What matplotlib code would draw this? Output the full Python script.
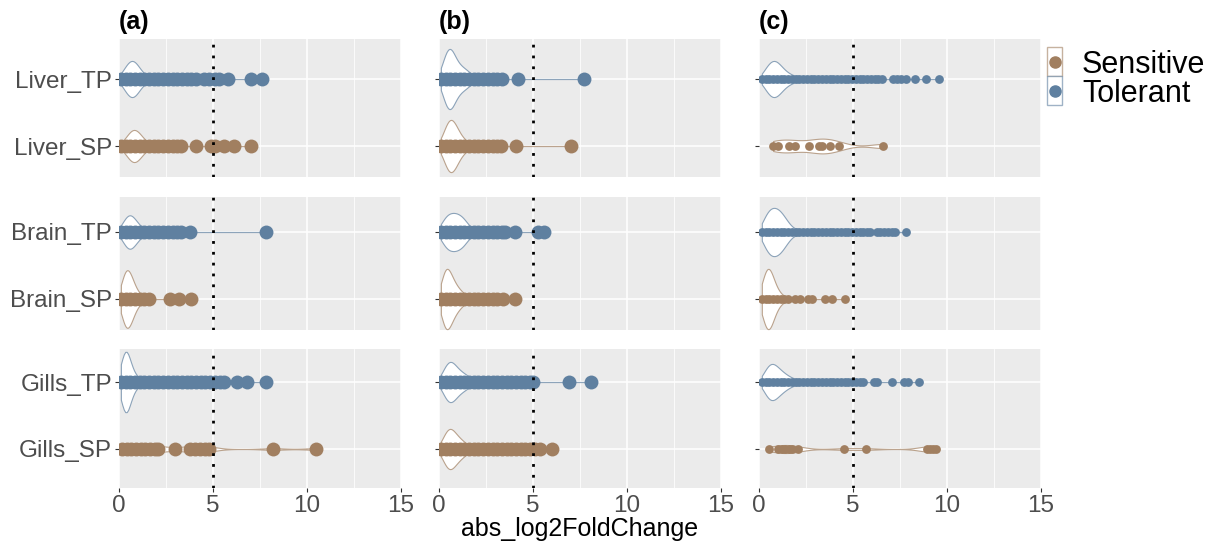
import numpy as np
import matplotlib
matplotlib.use("Agg")
import matplotlib.pyplot as plt
from matplotlib.patches import Rectangle
from matplotlib.lines import Line2D

plt.rcParams['font.family'] = ['Liberation Sans', 'DejaVu Sans']

# ---------------- data ----------------
tissues = ["Liver", "Brain", "Gills"]
groups = ["Sensitive", "Tolerant"]
group_codes = {"Sensitive": "SP", "Tolerant": "TP"}
panel_tags = ["(a)", "(b)", "(c)"]
x_ticks = [0, 5, 10, 15]
x_minor = [2.5, 7.5, 12.5]
threshold = 5
x_label = "abs_log2FoldChange"

# values (distinct points) and counts (relative density) per panel / series
a_liver_tp_x = [0.1,0.35,0.6,0.85,1.1,1.35,1.6,1.85,2.1,2.35,2.6,2.85,3.1,3.35,3.6,3.85,4.1,4.5,4.8,5.1,5.3,5.8,7.0,7.6]
a_liver_tp_n = [20,55,85,80,45,20,9,5,3,3,2,2,2,1,1,1,1,1,1,1,1,1,1,1]
a_liver_sp_x = [0.1,0.35,0.6,0.85,1.1,1.35,1.6,1.85,2.1,2.35,2.6,2.85,3.1,3.3,4.1,4.9,5.1,5.6,6.1,7.0]
a_liver_sp_n = [10,30,60,70,50,25,10,5,3,3,2,2,1,1,1,1,1,1,1,1]
a_brain_tp_x = [0.1,0.35,0.6,0.85,1.1,1.35,1.6,1.85,2.1,2.35,2.6,2.85,3.1,3.3,3.8,7.8]
a_brain_tp_n = [25,70,90,60,30,12,6,4,3,2,2,1,1,1,1,1]
a_brain_sp_x = [0.1,0.35,0.6,0.85,1.1,1.35,1.6,2.7,3.2,3.85]
a_brain_sp_n = [25,90,70,30,12,5,3,1,1,1]
a_gills_tp_x = [0.1,0.35,0.6,0.85,1.1,1.35,1.6,1.85,2.1,2.35,2.6,2.85,3.1,3.35,3.6,3.85,4.1,4.35,4.6,4.85,5.1,5.35,5.6,6.3,6.8,7.8]
a_gills_tp_n = [40,130,55,20,10,6,4,3,3,2,2,2,2,2,1,1,1,1,1,1,1,1,1,1,1,1]
a_gills_sp_x = [0.15,0.4,0.65,0.9,1.15,1.4,1.65,1.9,2.1,3.0,3.8,4.05,4.3,4.55,4.8,8.2,10.5]
a_gills_sp_n = [1,1,1,1,1,1,1,1,1,1,1,1,1,1,1,1,1]

b_liver_tp_x = [0.1,0.35,0.6,0.85,1.1,1.35,1.6,1.85,2.1,2.35,2.6,2.85,3.1,3.35,4.2,7.7]
b_liver_tp_n = [20,70,90,55,35,28,18,7,3,2,2,1,1,1,1,1]
b_liver_sp_x = [0.1,0.35,0.6,0.85,1.1,1.35,1.6,1.85,2.1,2.35,2.6,2.85,3.1,3.3,4.1,7.0]
b_liver_sp_n = [15,55,85,65,35,18,9,5,3,2,2,1,1,1,1,1]
b_brain_tp_x = [0.1,0.35,0.6,0.85,1.1,1.35,1.6,1.85,2.1,2.35,2.6,2.85,3.1,3.35,3.5,4.05,5.25,5.6]
b_brain_tp_n = [25,55,65,65,60,45,20,8,4,3,2,2,1,1,1,1,1,1]
b_brain_sp_x = [0.1,0.35,0.6,0.85,1.1,1.35,1.6,1.85,2.1,2.35,2.6,2.85,3.1,3.4,4.05]
b_brain_sp_n = [30,100,70,40,25,12,6,4,3,2,2,1,1,1,1]
b_gills_tp_x = [0.1,0.35,0.6,0.85,1.1,1.35,1.6,1.85,2.1,2.35,2.6,2.85,3.1,3.35,3.6,3.85,4.1,4.35,4.6,4.85,5.0,6.9,8.1]
b_gills_tp_n = [20,60,80,60,40,30,18,8,5,4,3,3,2,2,2,1,1,1,1,1,1,1,1]
b_gills_sp_x = [0.1,0.35,0.6,0.85,1.1,1.35,1.6,1.85,2.1,2.35,2.6,2.85,3.1,3.35,3.6,3.85,4.1,4.35,4.6,4.85,5.1,5.35,6.0]
b_gills_sp_n = [20,65,85,60,40,25,12,7,5,4,3,3,2,2,2,1,1,1,1,1,1,1,1]

c_liver_tp_x = [0.15,0.35,0.55,0.75,0.95,1.15,1.35,1.55,1.75,1.95,2.15,2.35,2.55,2.75,2.95,3.15,3.35,3.55,3.75,3.95,
                4.15,4.35,4.55,4.75,4.95,5.15,5.35,5.55,5.75,5.95,6.15,6.35,6.55,7.15,7.35,7.55,7.8,8.3,8.9,9.6]
c_liver_tp_n = [15,35,55,65,60,45,30,20,14,9,6,4,3,3,2,2,2,2,2,2,1,1,1,1,1,1,1,1,1,1,1,1,1,1,1,1,1,1,1,1]
c_liver_sp_x = [0.75,1.0,1.6,1.9,2.65,3.2,3.35,3.8,4.25,6.6]
c_liver_sp_n = [1,1,1,1,1,1,1,1,1,1]
c_brain_tp_x = [0.15,0.35,0.55,0.75,0.95,1.15,1.35,1.55,1.75,1.95,2.15,2.35,2.55,2.75,2.95,3.15,3.35,3.55,3.75,3.95,
                4.15,4.35,4.55,4.75,4.95,5.15,5.35,5.55,5.75,5.9,6.25,6.45,6.65,6.85,7.05,7.25,7.8]
c_brain_tp_n = [20,45,60,65,62,55,40,25,12,7,5,4,3,3,2,2,2,2,2,2,1,1,1,1,1,1,1,1,1,1,1,1,1,1,1,1,1]
c_brain_sp_x = [0.15,0.35,0.55,0.75,0.95,1.15,1.35,1.55,1.9,2.2,2.6,2.8,3.5,3.9,4.6]
c_brain_sp_n = [30,80,90,50,25,12,6,3,1,1,1,1,1,1,1]
c_gills_tp_x = [0.15,0.35,0.55,0.75,0.95,1.15,1.35,1.55,1.75,1.95,2.15,2.35,2.55,2.75,2.95,3.15,3.35,3.55,3.75,3.95,
                4.15,4.35,4.55,4.75,4.95,5.15,5.35,5.55,6.1,6.3,7.1,7.7,7.9,8.5]
c_gills_tp_n = [15,40,60,62,50,38,28,20,13,9,6,4,3,3,2,2,2,2,1,1,1,1,1,1,1,1,1,1,1,1,1,1,1,1]
c_gills_sp_x = [0.55,1.0,1.2,1.4,1.6,1.75,2.1,4.5,5.7,8.95,9.1,9.25,9.4]
c_gills_sp_n = [1,1,1,1,1,1,1,1,1,1,1,1,1]

series = {
    ("a", "Liver", "TP"): (a_liver_tp_x, a_liver_tp_n), ("a", "Liver", "SP"): (a_liver_sp_x, a_liver_sp_n),
    ("a", "Brain", "TP"): (a_brain_tp_x, a_brain_tp_n), ("a", "Brain", "SP"): (a_brain_sp_x, a_brain_sp_n),
    ("a", "Gills", "TP"): (a_gills_tp_x, a_gills_tp_n), ("a", "Gills", "SP"): (a_gills_sp_x, a_gills_sp_n),
    ("b", "Liver", "TP"): (b_liver_tp_x, b_liver_tp_n), ("b", "Liver", "SP"): (b_liver_sp_x, b_liver_sp_n),
    ("b", "Brain", "TP"): (b_brain_tp_x, b_brain_tp_n), ("b", "Brain", "SP"): (b_brain_sp_x, b_brain_sp_n),
    ("b", "Gills", "TP"): (b_gills_tp_x, b_gills_tp_n), ("b", "Gills", "SP"): (b_gills_sp_x, b_gills_sp_n),
    ("c", "Liver", "TP"): (c_liver_tp_x, c_liver_tp_n), ("c", "Liver", "SP"): (c_liver_sp_x, c_liver_sp_n),
    ("c", "Brain", "TP"): (c_brain_tp_x, c_brain_tp_n), ("c", "Brain", "SP"): (c_brain_sp_x, c_brain_sp_n),
    ("c", "Gills", "TP"): (c_gills_tp_x, c_gills_tp_n), ("c", "Gills", "SP"): (c_gills_sp_x, c_gills_sp_n),
}

# ---------------- style / layout ----------------
colors = {"SP": "#A17F60", "TP": "#5F80A0"}
edge_alpha = 0.7
violin_width = {
    ("a", "Liver", "TP"): 0.54, ("a", "Liver", "SP"): 0.48,
    ("a", "Brain", "TP"): 0.50, ("a", "Brain", "SP"): 0.86,
    ("a", "Gills", "TP"): 0.90, ("a", "Gills", "SP"): 0.14,
    ("b", "Liver", "TP"): 0.90, ("b", "Liver", "SP"): 0.78,
    ("b", "Brain", "TP"): 0.57, ("b", "Brain", "SP"): 0.90,
    ("b", "Gills", "TP"): 0.60, ("b", "Gills", "SP"): 0.60,
    ("c", "Liver", "TP"): 0.54, ("c", "Liver", "SP"): 0.22,
    ("c", "Brain", "TP"): 0.72, ("c", "Brain", "SP"): 0.90,
    ("c", "Gills", "TP"): 0.54, ("c", "Gills", "SP"): 0.12,
}
sparse_bw = 0.6
dense_bw = 0.2
point_size = {"a": 100, "b": 100, "c": 40}

W, H = 1218, 544
col_left = [119, 439, 759]
col_w = 282
rows_px = [(39, 177, 79, 146), (197, 330, 232, 299), (349, 488, 382, 449)]  # top, bottom, TP, SP

fig = plt.figure(figsize=(W / 100, H / 100), dpi=100)
label_color = "#4D4D4D"

for ci, tag in enumerate(["a", "b", "c"]):
    for ri, tissue in enumerate(tissues):
        top, bot, ytp, ysp = rows_px[ri]
        ax = fig.add_axes([col_left[ci] / W, 1 - bot / H, col_w / W, (bot - top) / H])
        unit = ysp - ytp
        ax.set_ylim(-(bot - ysp) / unit, 1 + (ytp - top) / unit)
        ax.set_xlim(0, 15)
        ax.set_facecolor("#EBEBEB")
        for s in ax.spines.values():
            s.set_visible(False)
        ax.set_axisbelow(True)
        ax.set_xticks(x_ticks)
        ax.set_xticks(x_minor, minor=True)
        ax.set_yticks([0, 1])
        ax.grid(which="major", color="white", linewidth=1.1)
        ax.grid(which="minor", axis="x", color="white", linewidth=0.55)
        ax.tick_params(which="minor", length=0)
        ax.tick_params(which="major", length=3, width=0.8, color="#333333",
                       labelsize=17.5, labelcolor=label_color, pad=2)
        if ci == 0:
            ax.set_yticklabels([f"{tissue}_SP", f"{tissue}_TP"])
        else:
            ax.set_yticklabels([])
        if ri == 2:
            ax.set_xticklabels([str(t) for t in x_ticks])
        else:
            ax.set_xticklabels([])
            ax.tick_params(axis="x", length=0)

        for ypos, code in [(0, "SP"), (1, "TP")]:
            key = (tag, tissue, code)
            vals, cnts = series[key]
            d = np.repeat(np.asarray(vals, float), cnts)
            bw = sparse_bw if max(cnts) == 1 else dense_bw
            sd = np.std(d, ddof=1)
            kw = dict(positions=[ypos], widths=[violin_width[key]], showextrema=False,
                      bw_method=(lambda k, b=bw, s=sd: b / s))
            try:
                parts = ax.violinplot([d], orientation="horizontal", **kw)
            except TypeError:
                parts = ax.violinplot([d], vert=False, **kw)
            rgba = matplotlib.colors.to_rgba(colors[code], edge_alpha)
            for body in parts["bodies"]:
                body.set_alpha(None)
                body.set_facecolor((1, 1, 1, 1))
                body.set_edgecolor(rgba)
                body.set_linewidth(0.8)
                body.set_zorder(2)
            ax.scatter(vals, [ypos] * len(vals), s=point_size[tag], color=colors[code],
                       linewidths=0, zorder=3)
        ax.axvline(threshold, color="black", linestyle=(0, (1, 2.9)), linewidth=2.0, zorder=5)

    fig.text(col_left[ci] / W, 1 - 29 / H, panel_tags[ci], fontsize=18, fontweight="bold",
             ha="left", va="baseline")

fig.text(580 / W, 1 - 536 / H, x_label, fontsize=18, ha="center", va="baseline")

# legend (drawn as keys: violin box + point)
key_x, key_w, key_h = 1047, 15, 29
for i, g in enumerate(groups):
    code = group_codes[g]
    ytop = 47 + i * key_h
    fig.add_artist(Rectangle((key_x / W, 1 - (ytop + key_h) / H), key_w / W, key_h / H,
                             transform=fig.transFigure, facecolor="white",
                             edgecolor=matplotlib.colors.to_rgba(colors[code], 0.6), linewidth=1.0))
    fig.add_artist(Line2D([(key_x + key_w / 2) / W], [1 - (ytop + key_h / 2) / H],
                          transform=fig.transFigure, marker="o", markersize=8,
                          color=colors[code], linestyle="none"))
    fig.text(1082 / W, 1 - (ytop + key_h / 2) / H, g, fontsize=22, ha="left", va="center_baseline")

fig.savefig("out.png", dpi=100)
